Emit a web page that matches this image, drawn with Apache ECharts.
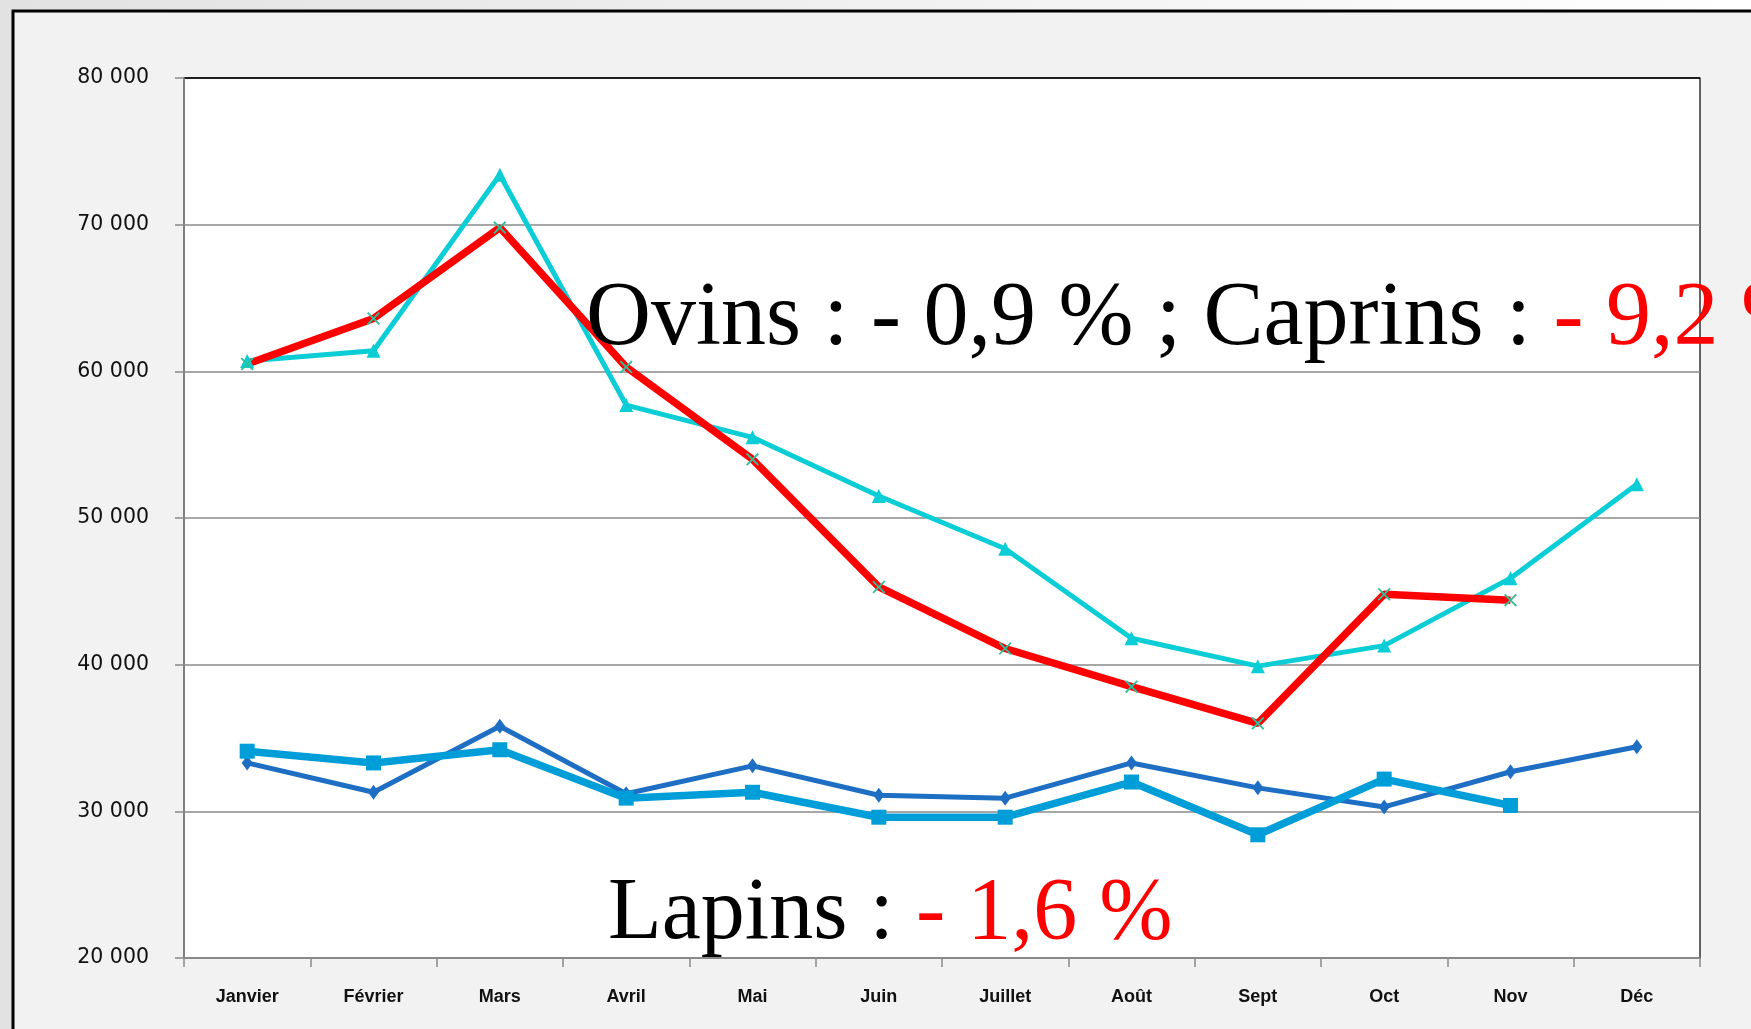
<!DOCTYPE html>
<html>
<head>
<meta charset="utf-8">
<script src="https://cdn.jsdelivr.net/npm/echarts@6/dist/echarts.min.js"></script>
<style>
  html, body { margin: 0; padding: 0; background: #fff; }
  #chart { width: 1751px; height: 1029px; }
</style>
</head>
<body>
<div id="chart"></div>
<script>
// mois en abscisse
const months = ['Janvier', 'Février', 'Mars', 'Avril', 'Mai', 'Juin', 'Juillet', 'Août', 'Sept', 'Oct', 'Nov', 'Déc']
const yTicks = [20000, 30000, 40000, 50000, 60000, 70000, 80000]

// ovins + caprins (année précédente / année en cours)
const ovinsPrev = [60700, 61400, 73400, 57700, 55500, 51500, 47900, 41800, 39900, 41300, 45900, 52300]
const ovinsCur = [60500, 63600, 69800, 60300, 54000, 45300, 41100, 38500, 36000, 44800, 44400, null]

// lapins (année précédente / année en cours)
const lapinsPrev = [33300, 31300, 35800, 31200, 33100, 31100, 30900, 33300, 31600, 30300, 32700, 34400]
const lapinsCur = [34100, 33300, 34200, 30900, 31300, 29600, 29600, 32000, 28400, 32200, 30400, null]

const crossPath = 'path://M0,1L1,0L5,4L9,0L10,1L6,5L10,9L9,10L5,6L1,10L0,9L4,5Z'

const chart = echarts.init(document.getElementById('chart'))

const fmt = v => String(v).replace(/\B(?=(\d{3})+(?!\d))/g, ' ')

// lignes de grille grises, sauf le bord haut qui reste noir
const gridColors = yTicks.map((v, i) => i === yTicks.length - 1 ? '#000000' : '#8a8a8a')

const option = {
  animation: false,
  backgroundColor: new echarts.graphic.LinearGradient(0, 0, 1, 0, [
    { offset: 0, color: '#e2e2e2' },
    { offset: 1, color: '#ffffff' }
  ]),
  grid: {
    left: 184,
    right: 51,
    top: 78,
    bottom: 71,
    show: true,
    backgroundColor: '#ffffff',
    borderColor: '#000000',
    borderWidth: 1.2
  },
  xAxis: {
    type: 'category',
    data: months,
    boundaryGap: true,
    axisLine: { lineStyle: { color: '#8a8a8a', width: 1.5 } },
    axisTick: { show: true, length: 9, lineStyle: { color: '#8a8a8a', width: 1.5 } },
    axisLabel: {
      margin: 30,
      color: '#111',
      fontFamily: 'Liberation Sans',
      fontWeight: 'bold',
      fontSize: 18
    }
  },
  yAxis: {
    type: 'value',
    min: yTicks[0],
    max: yTicks[yTicks.length - 1],
    interval: 10000,
    axisLine: { show: true, lineStyle: { color: '#8a8a8a', width: 1.5 } },
    axisTick: { show: true, length: 9, lineStyle: { color: '#8a8a8a', width: 1.5 } },
    splitLine: { lineStyle: { color: gridColors, width: 1.5 } },
    axisLabel: {
      margin: 35,
      color: '#111',
      fontFamily: 'DejaVu Sans',
      fontSize: 20.5,
      formatter: fmt
    }
  },
  series: [
    {
      name: 'lapinsPrev',
      type: 'line',
      data: lapinsPrev,
      symbol: 'diamond',
      symbolSize: [11, 15],
      lineStyle: { color: '#1e6fc4', width: 5 },
      itemStyle: { color: '#1e6fc4' }
    },
    {
      name: 'lapinsCur',
      type: 'line',
      data: lapinsCur,
      symbol: 'rect',
      symbolSize: 15,
      lineStyle: { color: '#009ed8', width: 7.5 },
      itemStyle: { color: '#009ed8' }
    },
    {
      name: 'ovinsPrev',
      type: 'line',
      data: ovinsPrev,
      symbol: 'triangle',
      symbolSize: 14,
      lineStyle: { color: '#0bcdd6', width: 5 },
      itemStyle: { color: '#0bcdd6' }
    },
    {
      name: 'ovinsCur',
      type: 'line',
      data: ovinsCur,
      symbol: crossPath,
      symbolSize: 13,
      lineStyle: { color: '#ff0000', width: 7.5 },
      itemStyle: { color: '#2fbf9c' }
    }
  ],
  graphic: [
    {
      type: 'rect',
      z: -10,
      shape: { x: 13, y: 11, width: 1850, height: 1100 },
      style: { fill: '#f2f2f2', stroke: '#000', lineWidth: 3 }
    },
    {
      type: 'text',
      z: 100,
      x: 586,
      y: 320,
      style: {
        text: '{a|Ovins : - 0,9 % ; Caprins : }{b|- 9,2 %}',
        verticalAlign: 'middle',
        rich: {
          a: { fontFamily: 'Liberation Serif', fontSize: 90, fill: '#000' },
          b: { fontFamily: 'Liberation Serif', fontSize: 90, fill: '#ff0000' }
        }
      }
    },
    {
      type: 'text',
      z: 100,
      x: 608,
      y: 915,
      style: {
        text: '{a|Lapins : }{b|- 1,6 %}',
        verticalAlign: 'middle',
        rich: {
          a: { fontFamily: 'Liberation Serif', fontSize: 88, fill: '#000' },
          b: { fontFamily: 'Liberation Serif', fontSize: 88, fill: '#ff0000' }
        }
      }
    }
  ]
}

chart.setOption(option)
</script>
</body>
</html>
